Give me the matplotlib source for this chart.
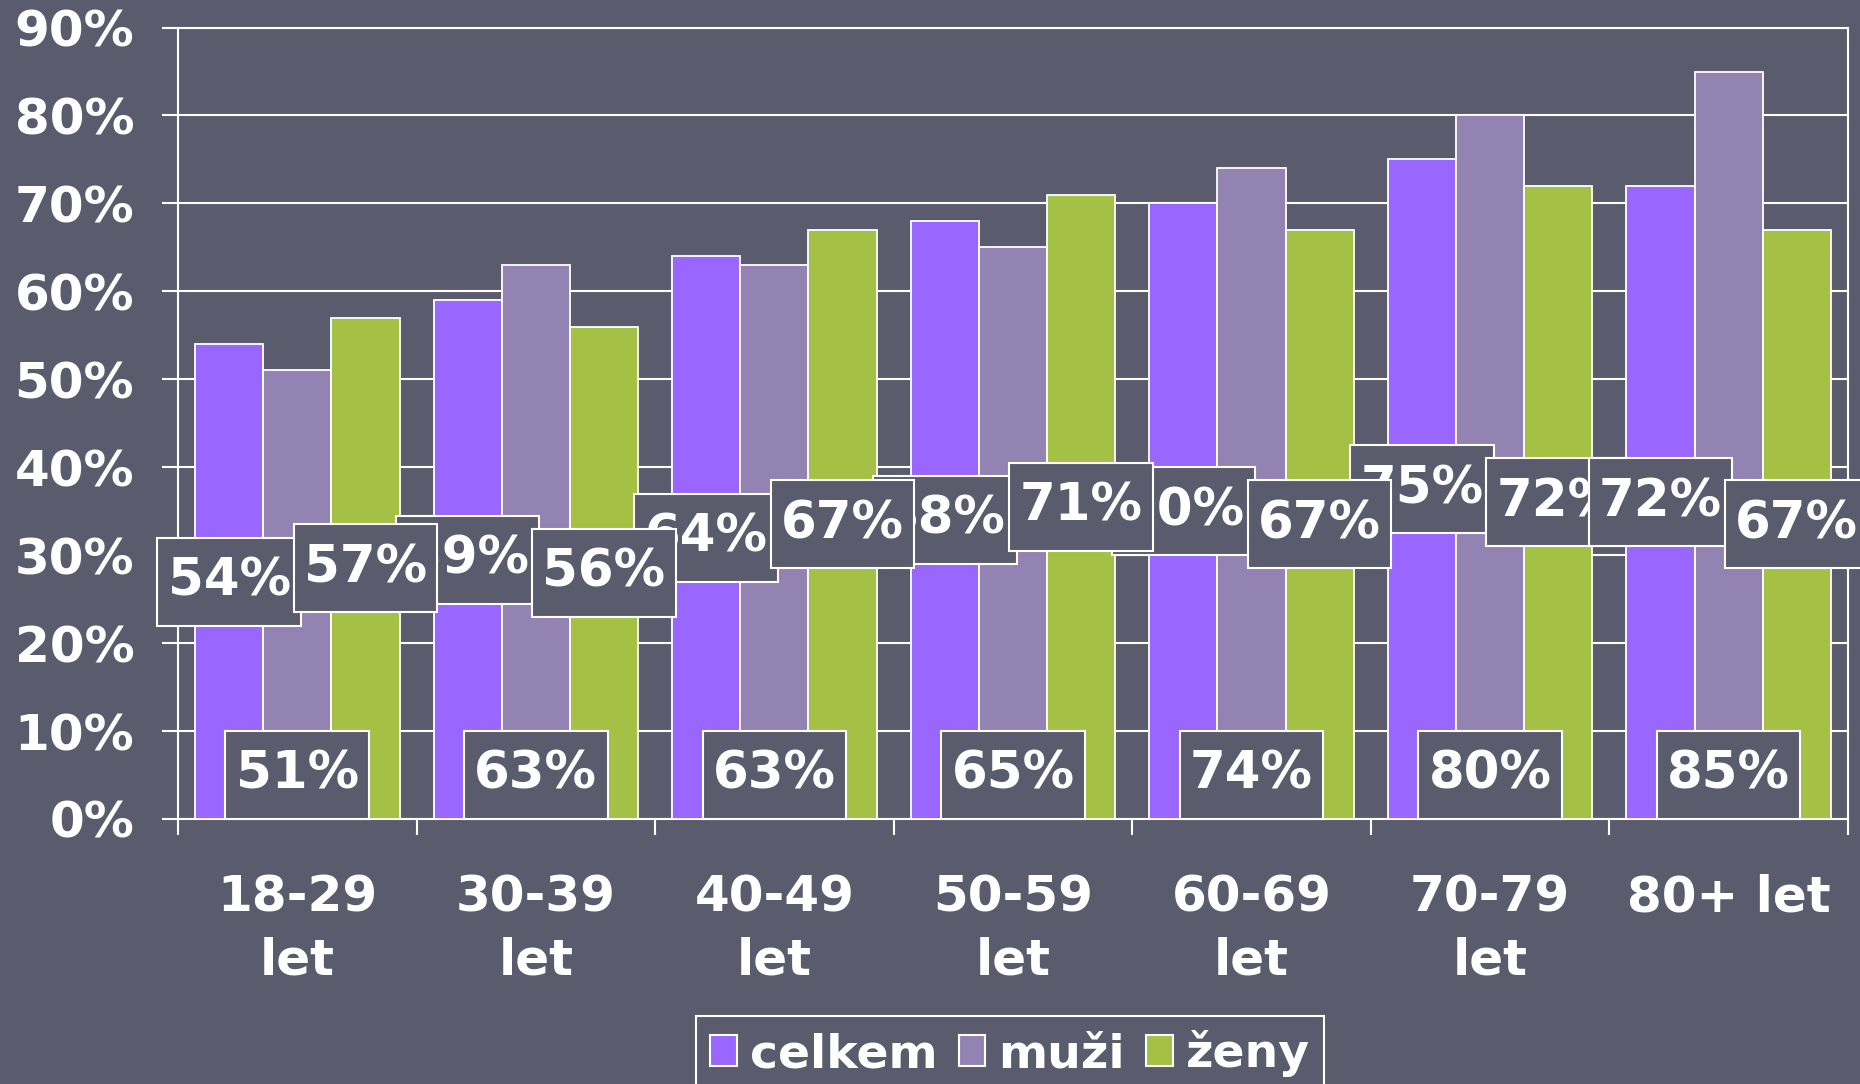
import matplotlib.pyplot as plt
import matplotlib.patches as mpatches
from matplotlib.path import Path
import numpy as np

# Data
categories = ['18-29\nlet', '30-39\nlet', '40-49\nlet', '50-59\nlet', '60-69\nlet', '70-79\nlet', '80+ let']
series_names = ['celkem', 'muži', 'ženy']
celkem = [54, 59, 64, 68, 70, 75, 72]
muzi = [51, 63, 63, 65, 74, 80, 85]
zeny = [57, 56, 67, 71, 67, 72, 67]
y_ticks = [0, 10, 20, 30, 40, 50, 60, 70, 80, 90]

# Styl
BG = '#5a5b6c'
colors = ['#9966ff', '#9383b3', '#a4c045']
plt.rcParams['font.family'] = ['DejaVu Sans']
plt.rcParams['font.weight'] = 'bold'


def label_box(x0, y0, width, height, mutation_size):
    # obdelnik s ruznym odsazenim vodorovne a svisle
    px = 0.2 * mutation_size
    py = 0.37 * mutation_size
    x0, y0 = x0 - px, y0 - py
    x1, y1 = x0 + width + 2 * px, y0 + height + 2 * py
    return Path([(x0, y0), (x1, y0), (x1, y1), (x0, y1), (x0, y0)], closed=True)


box_props = dict(boxstyle=label_box, facecolor=BG, edgecolor='white', linewidth=1.5)

fig = plt.figure(figsize=(18.6, 10.84), dpi=100)
fig.patch.set_facecolor(BG)
ax = fig.add_axes([0.0957, 0.2445, 0.8978, 0.7301])
ax.set_facecolor(BG)

x = np.arange(len(categories))
w = 2 / 7
for i, (vals, c, name) in enumerate(zip([celkem, muzi, zeny], colors, series_names)):
    ax.bar(x + (i - 1) * w, vals, width=w, color=c, edgecolor='white',
           linewidth=1.3, zorder=3, label=name)

ax.set_xlim(-0.5, len(categories) - 0.5)
ax.set_ylim(0, 90)
ax.set_yticks(y_ticks)
ax.set_yticklabels([f'{v}%' for v in y_ticks])
ax.yaxis.grid(True, color='white', linewidth=1.5)
ax.set_axisbelow(True)
for s in ax.spines.values():
    s.set_color('white')
    s.set_linewidth(1.5)

ax.tick_params(axis='y', length=11.5, width=1.5, color='white', pad=20,
               labelsize=36, labelcolor='white')
ax.set_xticks(x)
ax.set_xticklabels(categories, linespacing=1.4)
ax.tick_params(axis='x', which='major', length=0, pad=39, labelsize=36, labelcolor='white')
ax.set_xticks(np.arange(-0.5, len(categories), 1), minor=True)
ax.tick_params(axis='x', which='minor', length=11.5, width=1.5, color='white')

# Popisky hodnot - poradi kresleni jako v originale
n = len(categories)
order = [(0, k) for k in range(n - 1)] + [(2, k) for k in range(n - 1)] + [(0, n - 1), (2, n - 1)]
data = [celkem, muzi, zeny]
for s, k in order:
    v = data[s][k]
    ax.text(x[k] + (s - 1) * w, v / 2, f'{v}%', ha='center', va='center',
            fontsize=37, color='white', bbox=box_props, zorder=6)
for k, v in enumerate(muzi):
    ax.annotate(f'{v}%', (x[k], 0), xytext=(0, 32), textcoords='offset points',
                ha='center', va='center', fontsize=37, color='white',
                bbox=box_props, zorder=6)

handles = [mpatches.Patch(facecolor=c, edgecolor='white', linewidth=1.5) for c in colors]
leg = fig.legend(handles, series_names, loc='upper center', bbox_to_anchor=(0.543, 0.0627),
                 ncol=3, frameon=True, fancybox=False, facecolor=BG, edgecolor='white',
                 framealpha=1, prop={'size': 34, 'weight': 'bold'},
                 handlelength=0.56, handleheight=0.64, handletextpad=0.28,
                 columnspacing=0.45, borderpad=0.3, borderaxespad=0)
for t in leg.get_texts():
    t.set_color('white')
leg.get_frame().set_linewidth(1.5)

fig.savefig('out.png', dpi=100, facecolor=BG)
